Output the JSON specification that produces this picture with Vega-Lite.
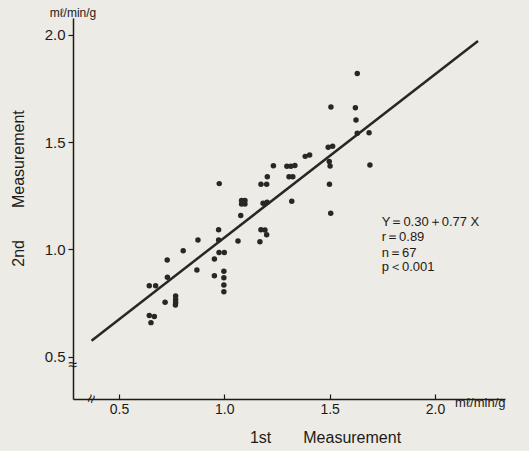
{
  "$schema": "https://vega.github.io/schema/vega-lite/v6.json",
  "width": 432,
  "height": 381,
  "autosize": "none",
  "padding": {"left": 73, "top": 18, "right": 24, "bottom": 52},
  "background": "#ecebe5",
  "config": {
    "view": {"stroke": null},
    "font": "Liberation Sans",
    "axis": {"grid": false, "domainColor": "#1e1a18", "tickColor": "#1e1a18", "labelColor": "#1e1a18", "titleColor": "#1e1a18", "domainWidth": 1.5, "tickWidth": 1.2, "labelFont": "Liberation Sans", "titleFont": "Liberation Sans", "titleFontWeight": "normal"}
  },
  "encoding": {
    "x": {"field": "x", "type": "quantitative",
      "scale": {"domain": [0.282, 2.332], "nice": false, "zero": false},
      "axis": {"values": [0.5, 1.0, 1.5, 2.0], "format": ".1f", "tickSize": -5, "labelPadding": 8, "labelFontSize": 14, "title": "1st\u2003\u2003Measurement", "titleFontSize": 16, "titleX": 252, "titleY": 38, "titleBaseline": "middle", "titleAlign": "center"}},
    "y": {"field": "y", "type": "quantitative",
      "scale": {"domain": [0.303, 2.079], "nice": false, "zero": false},
      "axis": {"values": [0.5, 1.0, 1.5, 2.0], "format": ".1f", "tickSize": 5, "labelPadding": 3, "labelFontSize": 15, "title": "2nd\u2003\u2003Measurement", "titleFontSize": 16, "titleX": -55, "titleY": 170, "titleBaseline": "middle", "titleAngle": -90, "titleAlign": "center"}}
  },
  "layer": [
    {
      "data": {"values": [
        {"x": 0.644, "y": 0.831}, {"x": 0.674, "y": 0.831}, {"x": 0.644, "y": 0.692}, {"x": 0.668, "y": 0.688},
        {"x": 0.652, "y": 0.659}, {"x": 0.729, "y": 0.951}, {"x": 0.730, "y": 0.870}, {"x": 0.719, "y": 0.754},
        {"x": 0.769, "y": 0.783}, {"x": 0.769, "y": 0.767}, {"x": 0.769, "y": 0.753}, {"x": 0.768, "y": 0.741},
        {"x": 0.805, "y": 0.994}, {"x": 0.870, "y": 0.904}, {"x": 0.875, "y": 1.044}, {"x": 0.953, "y": 0.956},
        {"x": 0.953, "y": 0.878}, {"x": 0.975, "y": 0.986}, {"x": 1.000, "y": 0.986}, {"x": 0.973, "y": 1.044},
        {"x": 0.973, "y": 1.092}, {"x": 0.976, "y": 1.307}, {"x": 0.998, "y": 0.899}, {"x": 0.998, "y": 0.868},
        {"x": 0.998, "y": 0.834}, {"x": 0.998, "y": 0.803}, {"x": 1.065, "y": 1.039}, {"x": 1.078, "y": 1.158},
        {"x": 1.082, "y": 1.228}, {"x": 1.098, "y": 1.228}, {"x": 1.082, "y": 1.212}, {"x": 1.098, "y": 1.212},
        {"x": 1.090, "y": 1.220}, {"x": 1.169, "y": 1.036}, {"x": 1.174, "y": 1.092}, {"x": 1.193, "y": 1.091},
        {"x": 1.201, "y": 1.069}, {"x": 1.184, "y": 1.215}, {"x": 1.203, "y": 1.220}, {"x": 1.174, "y": 1.304},
        {"x": 1.201, "y": 1.304}, {"x": 1.204, "y": 1.339}, {"x": 1.233, "y": 1.390}, {"x": 1.297, "y": 1.388},
        {"x": 1.316, "y": 1.388}, {"x": 1.335, "y": 1.391}, {"x": 1.307, "y": 1.339}, {"x": 1.325, "y": 1.339},
        {"x": 1.320, "y": 1.225}, {"x": 1.384, "y": 1.434}, {"x": 1.405, "y": 1.440}, {"x": 1.493, "y": 1.476},
        {"x": 1.514, "y": 1.481}, {"x": 1.498, "y": 1.410}, {"x": 1.502, "y": 1.389}, {"x": 1.499, "y": 1.304},
        {"x": 1.505, "y": 1.169}, {"x": 1.506, "y": 1.664}, {"x": 1.622, "y": 1.661}, {"x": 1.625, "y": 1.604},
        {"x": 1.631, "y": 1.542}, {"x": 1.631, "y": 1.820}, {"x": 1.687, "y": 1.544}, {"x": 1.691, "y": 1.394}
      ]},
      "mark": {"type": "circle", "size": 30, "color": "#2a2624", "opacity": 1}
    },
    {
      "data": {"values": [{"x": 0.370, "y": 0.575}, {"x": 2.204, "y": 1.972}]},
      "mark": {"type": "line", "color": "#2a2624", "strokeWidth": 2.5}
    },
    {
      "data": {"values": [
        {"x": 1.747, "y": 1.129, "label": "Y＝0.30＋0.77 X"},
        {"x": 1.747, "y": 1.058, "label": "r＝0.89"},
        {"x": 1.747, "y": 0.984, "label": "n＝67"},
        {"x": 1.747, "y": 0.918, "label": "p＜0.001"}
      ]},
      "mark": {"type": "text", "align": "left", "baseline": "middle", "fontSize": 13, "color": "#1e1a18"},
      "encoding": {"text": {"field": "label"}}
    },
    {
      "data": {"values": [{"x": 0.282, "y": 2.104, "label": "mℓ/min/g"}]},
      "mark": {"type": "text", "align": "center", "baseline": "middle", "fontSize": 12, "color": "#1e1a18"},
      "encoding": {"text": {"field": "label"}}
    },
    {
      "data": {"values": [{"x": 2.095, "y": 0.284, "label": "mℓ/min/g"}]},
      "mark": {"type": "text", "align": "left", "baseline": "middle", "fontSize": 13, "color": "#1e1a18"},
      "encoding": {"text": {"field": "label"}}
    },
    {
      "data": {"values": [{"x": 0.282, "y": 0.461, "label": "≈"}]},
      "mark": {"type": "text", "align": "center", "baseline": "middle", "fontSize": 16, "color": "#1e1a18"},
      "encoding": {"text": {"field": "label"}}
    },
    {
      "data": {"values": [{"x": 0.370, "y": 0.303, "label": "≈"}]},
      "mark": {"type": "text", "align": "center", "baseline": "middle", "fontSize": 16, "angle": -70, "color": "#1e1a18"},
      "encoding": {"text": {"field": "label"}}
    }
  ]
}
